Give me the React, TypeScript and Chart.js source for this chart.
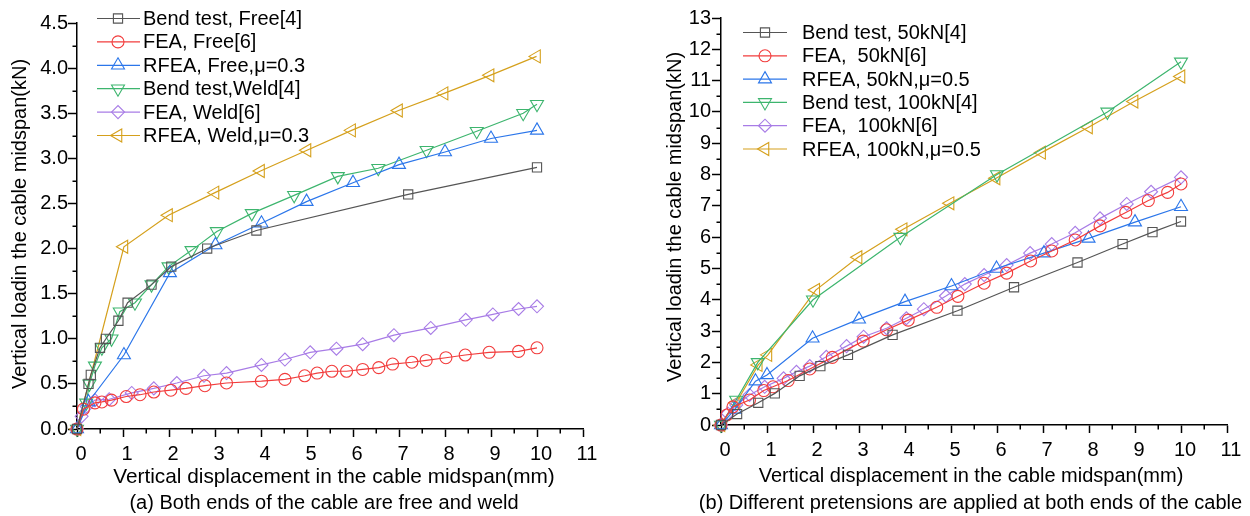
import React, { useEffect, useRef } from 'react';
import { Chart, registerables } from 'chart.js';

Chart.register(...registerables);

const FONT = '"Liberation Sans", Arial, Helvetica, sans-serif';

// ---------- (a) free / weld ----------
const freeBendX = [0, 0.25, 0.3, 0.5, 0.63, 0.9, 1.1, 1.62, 2.05, 2.83, 3.9, 7.2, 10];
const freeBendY = [0, 0.5, 0.6, 0.9, 1.0, 1.2, 1.4, 1.6, 1.8, 2.0, 2.2, 2.6, 2.9];

const freeFeaX = [0, 0.14, 0.39, 0.54, 0.75, 1.07, 1.37, 1.67, 2.04, 2.37, 2.78, 3.25, 4.01, 4.52, 4.95, 5.22, 5.54, 5.86, 6.21, 6.56, 6.86, 7.28, 7.59, 8.02, 8.44, 8.96, 9.6, 10];
const freeFeaY = [0, 0.22, 0.29, 0.3, 0.32, 0.36, 0.38, 0.41, 0.43, 0.45, 0.48, 0.51, 0.53, 0.55, 0.59, 0.62, 0.64, 0.64, 0.66, 0.68, 0.72, 0.74, 0.76, 0.79, 0.82, 0.85, 0.86, 0.9];

const freeRfeaX = [0, 0.25, 1.02, 2.02, 3.01, 4.01, 4.99, 6.0, 7.0, 8.0, 9.0, 10];
const freeRfeaY = [0, 0.3, 0.82, 1.73, 2.04, 2.28, 2.52, 2.73, 2.93, 3.07, 3.22, 3.31];

const weldBendX = [0, 0.2, 0.27, 0.39, 0.54, 0.75, 0.93, 1.26, 1.62, 1.99, 2.49, 3.04, 3.8, 4.72, 5.67, 6.55, 7.6, 8.69, 9.7, 10];
const weldBendY = [0, 0.29, 0.5, 0.7, 0.9, 1.0, 1.3, 1.4, 1.6, 1.8, 1.98, 2.19, 2.39, 2.59, 2.8, 2.89, 3.09, 3.3, 3.5, 3.6];

const weldFeaX = [0, 0.1, 0.21, 0.39, 0.7, 1.19, 1.67, 2.17, 2.76, 3.25, 4.01, 4.52, 5.07, 5.64, 6.21, 6.89, 7.69, 8.45, 9.04, 9.6, 10];
const weldFeaY = [0, 0.14, 0.25, 0.32, 0.33, 0.4, 0.45, 0.51, 0.59, 0.62, 0.71, 0.77, 0.85, 0.89, 0.94, 1.04, 1.12, 1.21, 1.27, 1.33, 1.36];

const weldRfeaX = [0, 1.02, 1.99, 3.0, 3.99, 5.0, 5.97, 6.99, 7.98, 8.98, 9.99];
const weldRfeaY = [0, 2.02, 2.37, 2.62, 2.86, 3.09, 3.31, 3.53, 3.72, 3.92, 4.13];

// ---------- (b) pretensions ----------
const bend50X = [0, 0.35, 0.81, 1.17, 1.71, 2.16, 2.76, 3.73, 5.14, 6.37, 7.75, 8.73, 9.38, 10];
const bend50Y = [0, 0.35, 0.71, 1.01, 1.57, 1.88, 2.24, 2.88, 3.65, 4.4, 5.19, 5.78, 6.16, 6.5];

const fea50X = [0, 0.13, 0.26, 0.62, 0.93, 1.13, 1.46, 1.93, 2.42, 3.09, 3.6, 4.07, 4.69, 5.15, 5.72, 6.21, 6.73, 7.19, 7.7, 8.24, 8.8, 9.29, 9.71, 10];
const fea50Y = [0, 0.32, 0.58, 0.8, 1.1, 1.22, 1.42, 1.79, 2.16, 2.68, 3.04, 3.35, 3.76, 4.11, 4.53, 4.85, 5.24, 5.56, 5.91, 6.36, 6.79, 7.17, 7.43, 7.7];

const rfea50X = [0, 0.3, 0.75, 1.0, 1.99, 3.0, 4.0, 5.01, 5.99, 7.02, 7.99, 9.0, 10];
const rfea50Y = [0, 0.5, 1.4, 1.6, 2.77, 3.38, 3.94, 4.44, 5.0, 5.49, 5.96, 6.48, 6.97];

const bend100X = [0, 0.33, 0.8, 2.0, 3.9, 6.0, 8.4, 10];
const bend100Y = [0, 0.8, 2.0, 4.0, 6.0, 8.0, 10.0, 11.6];

const fea100X = [0, 0.15, 0.33, 0.62, 0.95, 1.36, 1.64, 1.93, 2.29, 2.73, 3.1, 3.6, 4.03, 4.41, 4.89, 5.3, 5.72, 6.21, 6.72, 7.19, 7.7, 8.24, 8.82, 9.35, 10];
const fea100Y = [0, 0.37, 0.64, 0.96, 1.22, 1.49, 1.7, 1.88, 2.18, 2.52, 2.82, 3.09, 3.41, 3.7, 4.12, 4.5, 4.79, 5.11, 5.49, 5.78, 6.14, 6.6, 7.06, 7.45, 7.91];

const rfea100X = [0, 0.33, 0.81, 1.02, 2.06, 2.98, 3.96, 4.98, 5.98, 6.97, 7.99, 8.98, 10];
const rfea100Y = [0, 0.71, 1.92, 2.24, 4.31, 5.36, 6.25, 7.08, 7.88, 8.7, 9.51, 10.33, 11.13];

// ---------- labels ----------
const leftLegend = ['Bend test, Free[4]', 'FEA, Free[6]', 'RFEA, Free,\u03bc=0.3', 'Bend test,Weld[4]', 'FEA, Weld[6]', 'RFEA, Weld,\u03bc=0.3'];
const rightLegend = ['Bend test, 50kN[4]', 'FEA,  50kN[6]', 'RFEA, 50kN,\u03bc=0.5', 'Bend test, 100kN[4]', 'FEA,  100kN[6]', 'RFEA, 100kN,\u03bc=0.5'];
const yTitle = 'Vertical loadin the cable midspan(kN)';
const xTitle = 'Vertical displacement in the cable midspan(mm)';
const leftCaption = '(a) Both ends of the cable are free and weld';
const rightCaption = '(b) Different pretensions are applied at both ends of the cable';

const COLORS = ['#555555', '#f23c3c', '#2b76ea', '#3db56e', '#a87ce6', '#d5a01c'];
const STYLES = [
  { style: 'rect', rot: 0, r: 6.5 },
  { style: 'circle', rot: 0, r: 6 },
  { style: 'triangle', rot: 0, r: 7.5 },
  { style: 'triangle', rot: 180, r: 7.5 },
  { style: 'rectRot', rot: 0, r: 6.5 },
  { style: 'triangle', rot: 270, r: 7.5 },
];

function drawMarker(ctx: CanvasRenderingContext2D, style: string, rot: number, r: number, x: number, y: number) {
  ctx.beginPath();
  if (style === 'rect') {
    const s = r * Math.SQRT1_2;
    ctx.rect(x - s, y - s, 2 * s, 2 * s);
  } else if (style === 'circle') {
    ctx.arc(x, y, r, 0, Math.PI * 2);
  } else if (style === 'rectRot') {
    ctx.moveTo(x - r, y);
    ctx.lineTo(x, y - r);
    ctx.lineTo(x + r, y);
    ctx.lineTo(x, y + r);
    ctx.closePath();
  } else {
    let a = (rot * Math.PI) / 180;
    for (let i = 0; i < 3; i++) {
      const px = x + Math.sin(a) * r;
      const py = y - Math.cos(a) * r;
      if (i === 0) ctx.moveTo(px, py);
      else ctx.lineTo(px, py);
      a += (2 * Math.PI) / 3;
    }
    ctx.closePath();
  }
  ctx.stroke();
}

type PanelCfg = {
  xs: number[][];
  ys: number[][];
  legend: string[];
  caption: string;
  yMax: number;
  yStep: number;
  yFmt: (v: number) => string;
  yWidth: number;
  xHeight: number;
  pad: { left: number; right: number; top: number; bottom: number };
  yTickLen: number;
  yTickPad: number;
  legendLine: [number, number];
  legendMarker: number;
  legendText: number;
  legendY0: number;
  legendDy: number;
  yTitlePos: [number, number];
  xTitlePos: [number, number];
  xTitleSize: number;
  captionPos: [number, number];
};

function makeDecor(cfg: PanelCfg) {
  return {
    id: 'decor',
    afterDraw(chart: any) {
      const ctx: CanvasRenderingContext2D = chart.ctx;
      const xs = chart.scales.x;
      const ys = chart.scales.y;
      const area = chart.chartArea;
      ctx.save();
      // minor ticks
      ctx.strokeStyle = '#000';
      ctx.lineWidth = 1.5;
      ctx.beginPath();
      for (let v = 0.5; v < 11; v += 1) {
        const px = Math.round(xs.getPixelForValue(v)) + 0.25;
        ctx.moveTo(px, area.bottom);
        ctx.lineTo(px, area.bottom + 4.5);
      }
      const minor = cfg.yStep / 2;
      for (let v = minor; v < cfg.yMax; v += cfg.yStep) {
        const py = Math.round(ys.getPixelForValue(v)) + 0.25;
        ctx.moveTo(area.left, py);
        ctx.lineTo(area.left - 4.5, py);
      }
      ctx.stroke();

      // legend
      ctx.font = `20px ${FONT}`;
      ctx.textBaseline = 'middle';
      ctx.textAlign = 'left';
      cfg.legend.forEach((lab, i) => {
        const y = cfg.legendY0 + i * cfg.legendDy;
        ctx.strokeStyle = COLORS[i];
        ctx.lineWidth = 1.2;
        ctx.beginPath();
        ctx.moveTo(cfg.legendLine[0], y);
        ctx.lineTo(cfg.legendLine[1], y);
        ctx.stroke();
        ctx.lineWidth = 1.1;
        const st = STYLES[i];
        drawMarker(ctx, st.style, st.rot, st.r, cfg.legendMarker, y);
        ctx.fillStyle = '#000';
        ctx.fillText(lab, cfg.legendText, y + 1);
      });

      // axis titles & caption
      ctx.fillStyle = '#000';
      ctx.textAlign = 'center';
      ctx.textBaseline = 'middle';
      ctx.font = `${cfg.xTitleSize}px ${FONT}`;
      ctx.fillText(xTitle, cfg.xTitlePos[0], cfg.xTitlePos[1]);
      ctx.font = `20px ${FONT}`;
      ctx.fillText(cfg.caption, cfg.captionPos[0], cfg.captionPos[1]);
      ctx.save();
      ctx.translate(cfg.yTitlePos[0], cfg.yTitlePos[1]);
      ctx.rotate(-Math.PI / 2);
      ctx.fillText(yTitle, 0, 0);
      ctx.restore();
      ctx.restore();
    },
  };
}

function makeConfig(cfg: PanelCfg): any {
  const datasets = cfg.xs.map((xarr, i) => ({
    label: cfg.legend[i],
    data: xarr.map((x, j) => ({ x, y: cfg.ys[i][j] })),
    borderColor: COLORS[i],
    borderWidth: 1.2,
    pointStyle: STYLES[i].style,
    pointRotation: STYLES[i].rot,
    pointRadius: STYLES[i].r,
    pointBorderWidth: 1.1,
    pointBorderColor: COLORS[i],
    pointBackgroundColor: 'rgba(0,0,0,0)',
    showLine: true,
    fill: false,
    tension: 0,
    clip: false,
  }));
  return {
    type: 'scatter',
    data: { datasets },
    plugins: [makeDecor(cfg)],
    options: {
      responsive: false,
      animation: false,
      devicePixelRatio: 1,
      events: [],
      layout: { padding: cfg.pad },
      plugins: { legend: { display: false }, tooltip: { enabled: false }, title: { display: false } },
      scales: {
        x: {
          type: 'linear',
          min: 0,
          max: 11,
          afterFit: (s: any) => {
            s.height = cfg.xHeight;
          },
          border: { display: true, color: '#000', width: 1.5 },
          grid: { display: true, drawOnChartArea: false, drawTicks: true, tickLength: 8, tickColor: '#000', tickWidth: 1.5 },
          ticks: {
            stepSize: 1,
            color: '#000',
            font: { family: FONT, size: 20 },
            padding: 5,
            labelOffset: 4,
            maxRotation: 0,
            autoSkip: false,
            callback: (v: number) => String(Math.round(v)),
          },
        },
        y: {
          type: 'linear',
          min: 0,
          max: cfg.yMax,
          afterFit: (s: any) => {
            s.width = cfg.yWidth;
          },
          border: { display: true, color: '#000', width: 1.5 },
          grid: { display: true, drawOnChartArea: false, drawTicks: true, tickLength: cfg.yTickLen, tickColor: '#000', tickWidth: 1.5 },
          ticks: {
            stepSize: cfg.yStep,
            color: '#000',
            font: { family: FONT, size: 20 },
            padding: cfg.yTickPad,
            autoSkip: false,
            callback: (v: number) => cfg.yFmt(v),
          },
        },
      },
    },
  };
}

const leftCfg: PanelCfg = {
  xs: [freeBendX, freeFeaX, freeRfeaX, weldBendX, weldFeaX, weldRfeaX],
  ys: [freeBendY, freeFeaY, freeRfeaY, weldBendY, weldFeaY, weldRfeaY],
  legend: leftLegend,
  caption: leftCaption,
  yMax: 4.5,
  yStep: 0.5,
  yFmt: (v) => v.toFixed(1),
  yWidth: 77,
  xHeight: 87,
  pad: { left: 0, right: 42, top: 23, bottom: 0 },
  yTickLen: 9,
  yTickPad: 0,
  legendLine: [97, 140],
  legendMarker: 118,
  legendText: 143,
  legendY0: 18.5,
  legendDy: 23.4,
  yTitlePos: [20, 224],
  xTitlePos: [334, 477],
  xTitleSize: 20.8,
  captionPos: [324, 503],
};

const rightCfg: PanelCfg = {
  xs: [bend50X, fea50X, rfea50X, bend100X, fea100X, rfea100X],
  ys: [bend50Y, fea50Y, rfea50Y, bend100Y, fea100Y, rfea100Y],
  legend: rightLegend,
  caption: rightCaption,
  yMax: 13,
  yStep: 1,
  yFmt: (v) => String(Math.round(v)),
  yWidth: 96,
  xHeight: 91,
  pad: { left: 0, right: 23, top: 18, bottom: 0 },
  yTickLen: 9,
  yTickPad: 1,
  legendLine: [118, 162],
  legendMarker: 140,
  legendText: 177,
  legendY0: 32.5,
  legendDy: 23.3,
  yTitlePos: [50, 217],
  xTitlePos: [346, 476],
  xTitleSize: 20,
  captionPos: [345.5, 503],
};

function Panel({ cfg, left }: { cfg: PanelCfg; left: number }) {
  const ref = useRef<HTMLCanvasElement>(null);
  useEffect(() => {
    const chart = new Chart(ref.current as HTMLCanvasElement, makeConfig(cfg));
    return () => chart.destroy();
  }, [cfg]);
  return (
    <canvas
      ref={ref}
      width={625}
      height={516}
      style={{ position: 'absolute', left, top: 0, width: 625, height: 516 }}
    />
  );
}

export default function App() {
  return (
    <div style={{ position: 'absolute', left: 0, top: 0, width: 1250, height: 516, background: '#fff', overflow: 'hidden' }}>
      <Panel cfg={leftCfg} left={0} />
      <Panel cfg={rightCfg} left={625} />
    </div>
  );
}
